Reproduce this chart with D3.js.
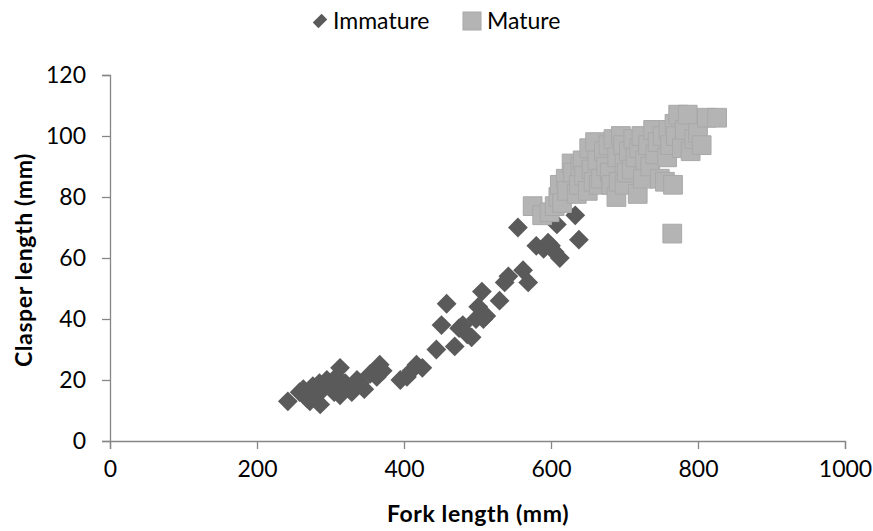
<!DOCTYPE html>
<html>
<head>
<meta charset="utf-8">
<script src="https://cdn.jsdelivr.net/npm/d3@7"></script>
<style>
body { margin: 0; background: #fff; }
text { font-family: Lato, "Open Sans", sans-serif; fill: #000; }
</style>
</head>
<body>
<div class="chart"></div>
<script>
// fork length (mm), clasper length (mm)
const immatureX = [242, 258, 263, 268, 272, 276, 281, 285, 286, 290, 295, 300, 305, 308, 313, 313, 320, 329, 336, 340, 346, 354, 363, 367, 371,
  395, 404, 410, 417, 425,
  444, 451, 458, 469, 475, 480, 486, 492, 498, 501, 506, 508, 512, 530, 537, 542, 555, 562, 569,
  580, 590, 596, 600, 605, 608, 612, 633, 638];
const immatureY = [13, 16, 17, 14, 13, 18, 16, 19, 12, 17, 20, 18, 16, 21, 24, 15, 19, 16, 20, 19, 17, 22, 21, 25, 23,
  20, 21, 23, 25, 24,
  30, 38, 45, 31, 37, 38, 35, 34, 40, 44, 49, 40, 41, 46, 52, 54, 70, 56, 52,
  64, 63, 65, 64, 62, 71, 60, 74, 66];
const matureX = [575, 588, 598, 605, 610, 612, 615, 620, 622, 628, 630, 635, 638, 640, 643, 645, 650, 652, 655, 658, 660, 663, 665, 668,
  672, 675, 678, 680, 682, 685, 689, 690, 692, 695, 698, 700, 700, 703, 706, 710, 712, 715, 718, 720, 723, 725, 728, 732, 735, 739,
  742, 745, 748, 752, 755, 758, 760, 762, 765, 766, 768, 770, 773, 778, 782, 786, 790, 795, 800, 805, 812, 826];
const matureY = [77, 74, 75, 77, 80, 84, 78, 86, 82, 91, 88, 81, 84, 90, 92, 87, 82, 96, 89, 85, 98, 92, 84, 86,
  95, 90, 97, 88, 84, 99, 80, 93, 85, 100, 97, 91, 84, 88, 95, 89, 99, 93, 81, 96, 100, 86, 92, 97, 90, 102,
  94, 98, 86, 100, 85, 93, 102, 97, 68, 84, 104, 100, 107, 96, 102, 107, 95, 99, 101, 97, 106, 106];
const xTicks = [0, 200, 400, 600, 800, 1000];
const yTicks = [0, 20, 40, 60, 80, 100, 120];

const width = 873, height = 531;
const svg = d3.select(".chart").append("svg")
  .attr("width", width)
  .attr("height", height);

const x = d3.scaleLinear().domain([0, 1000]).range([110, 845]);
const y = d3.scaleLinear().domain([0, 120]).range([441, 75]);

const axisColor = "#868686";

const xAxis = svg.append("g")
  .attr("transform", "translate(0," + y(0) + ")")
  .call(d3.axisBottom(x).tickValues(xTicks).tickSize(8).tickPadding(12).tickFormat(d3.format("d")));
const yAxis = svg.append("g")
  .attr("transform", "translate(" + x(0) + ",0)")
  .call(d3.axisLeft(y).tickValues(yTicks).tickSize(8).tickPadding(16));
[xAxis, yAxis].forEach(g => {
  g.select(".domain").attr("stroke", axisColor).attr("stroke-width", 1.3);
  g.selectAll(".tick line").attr("stroke", axisColor).attr("stroke-width", 1.3);
  g.selectAll(".tick text").attr("font-size", 23).attr("font-family", "Lato").attr("fill", "#000");
});

const diamond = d3.symbol().type(d3.symbolSquare).size(196);
const square = d3.symbol().type(d3.symbolSquare).size(350);

svg.append("g").selectAll("path")
  .data(immatureX.map((d, i) => [d, immatureY[i]]))
  .enter()
  .append("path")
  .attr("d", diamond)
  .attr("transform", d => "translate(" + x(d[0]) + "," + y(d[1]) + ") rotate(45)")
  .attr("fill", "#5a5a5a");

svg.append("g").selectAll("path")
  .data(matureX.map((d, i) => [d, matureY[i]]))
  .enter()
  .append("path")
  .attr("d", square)
  .attr("transform", d => "translate(" + x(d[0]) + "," + y(d[1]) + ")")
  .attr("fill", "#b4b4b4")
  .attr("stroke", "#a8a8a8")
  .attr("stroke-width", 1);

// axis titles
svg.append("text")
  .attr("x", 478)
  .attr("y", 522)
  .attr("text-anchor", "middle")
  .attr("font-size", 23)
  .attr("font-weight", "bold")
  .attr("letter-spacing", 0.6)
  .text("Fork length (mm)");
svg.append("text")
  .attr("transform", "translate(32,260) rotate(-90)")
  .attr("text-anchor", "middle")
  .attr("font-size", 23)
  .attr("font-weight", "bold")
  .attr("letter-spacing", 0.6)
  .text("Clasper length (mm)");

// legend
const legend = svg.append("g").attr("transform", "translate(0,21)");
legend.append("path")
  .attr("d", d3.symbol().type(d3.symbolSquare).size(100))
  .attr("transform", "translate(320,0) rotate(45) scale(0.8,1.25)")
  .attr("fill", "#5a5a5a");
legend.append("text")
  .attr("x", 333)
  .attr("y", 8)
  .attr("font-size", 23)
  .text("Immature");
legend.append("rect")
  .attr("x", 463)
  .attr("y", -9)
  .attr("width", 18)
  .attr("height", 18)
  .attr("fill", "#b4b4b4")
  .attr("stroke", "#a8a8a8");
legend.append("text")
  .attr("x", 487)
  .attr("y", 8)
  .attr("font-size", 23)
  .text("Mature");
</script>
</body>
</html>
